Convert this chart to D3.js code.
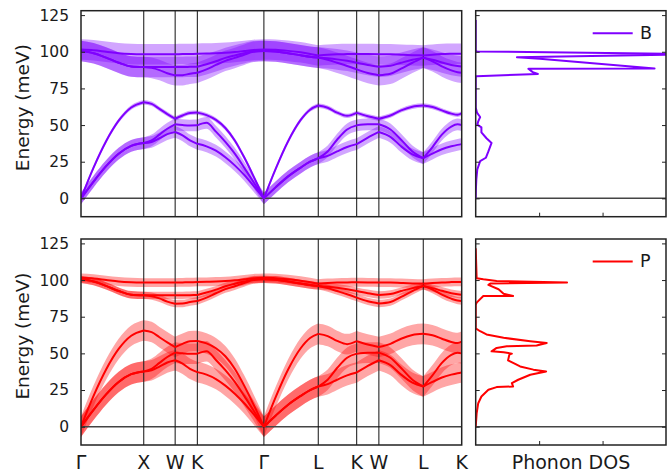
<html>
<head>
<meta charset="utf-8">
<script src="https://d3js.org/d3.v7.min.js"></script>
<style>
body { margin: 0; background: #fff; }
text { font-family: "DejaVu Sans", sans-serif; fill: #1a1a1a; }
</style>
</head>
<body>
<svg class="chart" width="670" height="472"></svg>
<script>

// high symmetry path (fcc), distances in 2pi/a
const kTicks = [0, 1, 1.5, 1.8536, 2.9142, 3.7802, 4.3926, 4.7462, 5.4533, 6.0657];
const kLabels = ["Γ", "X", "W", "K", "Γ", "L", "K", "W", "L", "K"];

// sampled k-points along the path
const kPts = [0, 0.2, 0.4, 0.6, 0.8, 1.0,
  1.125, 1.25, 1.375, 1.5,
  1.618, 1.736, 1.8536,
  2.0, 2.15, 2.3, 2.45, 2.6, 2.75, 2.9142,
  3.1, 3.3, 3.5, 3.65, 3.7802,
  3.93, 4.08, 4.24, 4.3926,
  4.57, 4.7462,
  4.93, 5.1, 5.28, 5.4533,
  5.6, 5.75, 5.9, 6.0, 6.0657];

// phonon branches (meV), lowest to highest
const band1 = [0, 11.5, 22, 30.5, 35.8, 37.7,
  38.5, 41, 43.8, 45.3,
  43, 39.5, 37.2,
  35.5, 32.5, 28, 22.5, 16, 8.5, 0,
  7.5, 15, 21, 25, 27.4,
  29, 32, 35, 37,
  41.5, 45.3,
  42, 35.5, 30, 27.4,
  30.5, 33.5, 35.5, 36.5, 37];
const band2 = [0, 11.5, 22, 30.5, 35.8, 37.7,
  39.5, 43.5, 47.5, 50.5,
  50, 49.7, 49.8,
  51.5, 45.5, 38.5, 30.5, 21, 11, 0,
  7.5, 15, 21, 25, 27.4,
  32, 40, 47, 49.8,
  50.5, 50.5,
  47, 40, 32, 27.4,
  35, 43.5, 49, 50.5, 50];
const band3 = [0, 21, 39, 53, 62, 65.6,
  64.5, 61, 57.5, 54.3,
  56.5, 58.3, 58.5,
  56.8, 53.5, 48, 39.5, 28, 15, 0,
  20, 39, 53.5, 60.5, 63.3,
  61.8, 58.5, 56.3, 58.3,
  56, 54.3,
  56.5, 60, 62.5, 63.3,
  62.3, 60, 57.8, 57, 58];
const band4 = [100.5, 99, 96, 92.5, 90, 89.6,
  89, 87.5, 85.3, 83.9,
  84, 85, 85.7,
  88, 91, 93.8, 95.8, 98, 100, 100.5,
  100.2, 99, 97.6, 96.6, 96,
  94.5, 92.5, 90.3, 88,
  85.5, 84,
  85, 88.5, 92.5, 96,
  93.5, 90, 87.3, 86, 85.7];
const band5 = [100.5, 99, 96, 92.5, 90, 89.6,
  89.6, 89.6, 89.6, 89.6,
  89.6, 89.7, 89.8,
  91.5, 93.5, 95.8, 97.5, 99, 100.3, 100.5,
  100.2, 99, 97.6, 96.6, 96,
  95.5, 94.8, 93.8, 92.5,
  91, 89.8,
  90.5, 92.5, 94.5, 96,
  94.5, 92.7, 91, 90.3, 90];
const band6 = [101.5, 101, 100, 99, 98.5, 98.3,
  98.3, 98.3, 98.3, 98.3,
  98.4, 98.5, 98.7,
  98.8, 99, 99.3, 99.8, 100.5, 101.2, 101.5,
  101.3, 100.6, 99.6, 98.5, 97.5,
  98, 98.3, 98.4, 98.5,
  98.4, 98.3,
  98.3, 98, 97.7, 97.5,
  98, 98.4, 98.6, 98.7, 98.7];
const bands = [band1, band2, band3, band4, band5, band6];

// half widths of the projected weight shading (meV)
const widthB = [4, 4, 1.5, 7, 7, 7];
const widthP = [7, 7, 7, 2.5, 2.5, 3];

// projected DOS
const dosBE = [0, 6, 12.9, 19.7, 25.4, 27.7, 32, 37.8, 41, 45, 48.4, 50.3, 52.5, 55.5, 58.5, 62,
  83, 83.3, 84.9, 86.1, 88.4, 88.6, 95.3, 96.2, 98.3, 100.2, 101, 121.6];
const dosBV = [0, 0.003, 0.01, 0.025, 0.07, 0.16, 0.2, 0.25, 0.17, 0.09, 0.09, 0.025, 0.04, 0.07, 0.02, 0,
  0, 0.015, 0.98, 0.9, 0.83, 2.82, 1.01, 0.65, 3.6, 0.015, 0, 0];
const dosPE = [0, 9.1, 16, 20.6, 25.2, 27, 27.4, 29.7, 32, 35.4, 37.7, 38.9, 41.1, 43.5, 45.2, 49.1, 49.8,
  50.7, 51.4, 53.7, 54.8, 55.3, 57.1, 58.3, 60.6, 62.9, 65.1, 67,
  83, 84.6, 89.1, 89.2, 90.7, 93.7, 96.7, 97.6, 98.3, 99.4, 100.5, 101.2, 121.6];
const dosPV = [0, 0.015, 0.04, 0.09, 0.2, 0.33, 0.59, 0.57, 0.67, 0.86, 1.11, 0.91, 0.7, 0.59, 0.51, 0.53, 0.57,
  0.44, 0.25, 0.33, 0.49, 0.96, 1.12, 0.86, 0.44, 0.17, 0.07, 0,
  0, 0.015, 0.12, 0.59, 0.44, 0.36, 0.2, 0.23, 1.44, 0.33, 0.12, 0.015, 0];

const yTicks = [0, 25, 50, 75, 100, 125];
const dosTicks = [1, 2];

const svg = d3.select(".chart");
const H = 206;
const x = d3.scaleLinear().domain([0, 6.0657]).range([81, 461.7]);
const xd = d3.scaleLinear().domain([0, 3]).range([475.7, 666]);

const segs = d3.pairs(kTicks).map(([a, b]) => {
  const i0 = kPts.findIndex(k => Math.abs(k - a) < 1e-3);
  const i1 = kPts.findIndex(k => Math.abs(k - b) < 1e-3);
  return d3.range(i0, i1 + 1);
});

function drawPanel(top, color, widths, dosE, dosV, name, bottom) {
  const y = d3.scaleLinear().domain([-12.5, 128]).range([top + H, top]);

  svg.append("clipPath").attr("id", "c" + name).append("rect")
    .attr("x", 81).attr("y", top).attr("width", 461.7 - 81).attr("height", H);
  svg.append("clipPath").attr("id", "d" + name).append("rect")
    .attr("x", 475.7).attr("y", top).attr("width", 666 - 475.7).attr("height", H);

  const g = svg.append("g").attr("clip-path", "url(#c" + name + ")");

  // shading
  bands.forEach((band, b) => {
    const gb = g.append("g").attr("fill", color).attr("opacity", 0.35);
    segs.forEach(seg => {
      gb.append("path")
        .attr("d", d3.area().curve(d3.curveMonotoneX)
          .x(i => x(kPts[i]))
          .y0(i => y(band[i] - widths[b]))
          .y1(i => y(band[i] + widths[b]))(seg));
    });
  });

  // zero line + high symmetry lines
  g.append("line").attr("x1", 81).attr("x2", 461.7)
    .attr("y1", y(0)).attr("y2", y(0))
    .attr("stroke", "#444").attr("stroke-width", 1.5);
  g.selectAll(".vl").data(kTicks.slice(1, -1)).enter().append("line")
    .attr("x1", d => x(d)).attr("x2", d => x(d))
    .attr("y1", top).attr("y2", top + H)
    .attr("stroke", "#111").attr("stroke-width", 1);

  // branches
  bands.forEach(band => {
    segs.forEach(seg => {
      g.append("path")
        .attr("fill", "none").attr("stroke", color).attr("stroke-width", 2)
        .attr("d", d3.line().curve(d3.curveMonotoneX)
          .x(i => x(kPts[i])).y(i => y(band[i]))(seg));
    });
  });

  // axes of dispersion panel
  svg.append("g").attr("transform", "translate(81,0)")
    .call(d3.axisLeft(y).tickValues(yTicks).tickSize(-4).tickPadding(12))
    .attr("font-size", 15.5).attr("font-family", "DejaVu Sans")
    .call(a => a.select(".domain").remove())
    .call(a => a.selectAll("line").attr("stroke", "#222"))
    .call(a => a.selectAll("text").attr("fill", "#1a1a1a"));

  svg.append("text")
    .attr("transform", "translate(29," + (top + 97) + ") rotate(-90)")
    .attr("text-anchor", "middle").attr("font-size", 18.5)
    .text("Energy (meV)");

  svg.append("rect").attr("x", 81).attr("y", top)
    .attr("width", 461.7 - 81).attr("height", H)
    .attr("fill", "none").attr("stroke", "#222").attr("stroke-width", 1.5);

  // DOS panel
  const gd = svg.append("g").attr("clip-path", "url(#d" + name + ")");
  gd.append("line").attr("x1", 475.7).attr("x2", 666)
    .attr("y1", y(0)).attr("y2", y(0))
    .attr("stroke", "#444").attr("stroke-width", 1.5);
  gd.append("path")
    .attr("fill", "none").attr("stroke", color).attr("stroke-width", 2)
    .attr("stroke-linejoin", "round")
    .attr("d", d3.line().x((d, i) => xd(dosV[i])).y(d => y(d))(dosE));

  svg.append("g").attr("transform", "translate(475.7,0)")
    .call(d3.axisLeft(y).tickValues(yTicks).tickSize(-4).tickFormat(""))
    .call(a => a.select(".domain").remove())
    .call(a => a.selectAll("line").attr("stroke", "#222"));
  svg.append("g").attr("transform", "translate(666,0)")
    .call(d3.axisRight(y).tickValues(yTicks).tickSize(-4).tickFormat(""))
    .call(a => a.select(".domain").remove())
    .call(a => a.selectAll("line").attr("stroke", "#222"));
  svg.append("g").attr("transform", "translate(0," + (top + H) + ")")
    .call(d3.axisBottom(xd).tickValues(dosTicks).tickSize(-4).tickFormat(""))
    .call(a => a.select(".domain").remove())
    .call(a => a.selectAll("line").attr("stroke", "#222"));

  svg.append("rect").attr("x", 475.7).attr("y", top)
    .attr("width", 666 - 475.7).attr("height", H)
    .attr("fill", "none").attr("stroke", "#222").attr("stroke-width", 1.5);

  // legend
  svg.append("line").attr("x1", 592.7).attr("x2", 632.7)
    .attr("y1", top + 22.5).attr("y2", top + 22.5)
    .attr("stroke", color).attr("stroke-width", 2);
  svg.append("text").attr("x", 640).attr("y", top + 27.8)
    .attr("font-size", 17.5).text(name);

  if (bottom) {
    svg.append("g").selectAll("text").data(kTicks).enter().append("text")
      .attr("x", d => x(d)).attr("y", 468.5)
      .attr("text-anchor", "middle").attr("font-size", 19)
      .text((d, i) => kLabels[i]);
    svg.append("text").attr("x", 571).attr("y", 468.5)
      .attr("text-anchor", "middle").attr("font-size", 19)
      .text("Phonon DOS");
  }
}

drawPanel(10.7, "#7f00ff", widthB, dosBE, dosBV, "B", false);
drawPanel(239, "#ff0000", widthP, dosPE, dosPV, "P", true);

</script>
</body>
</html>
